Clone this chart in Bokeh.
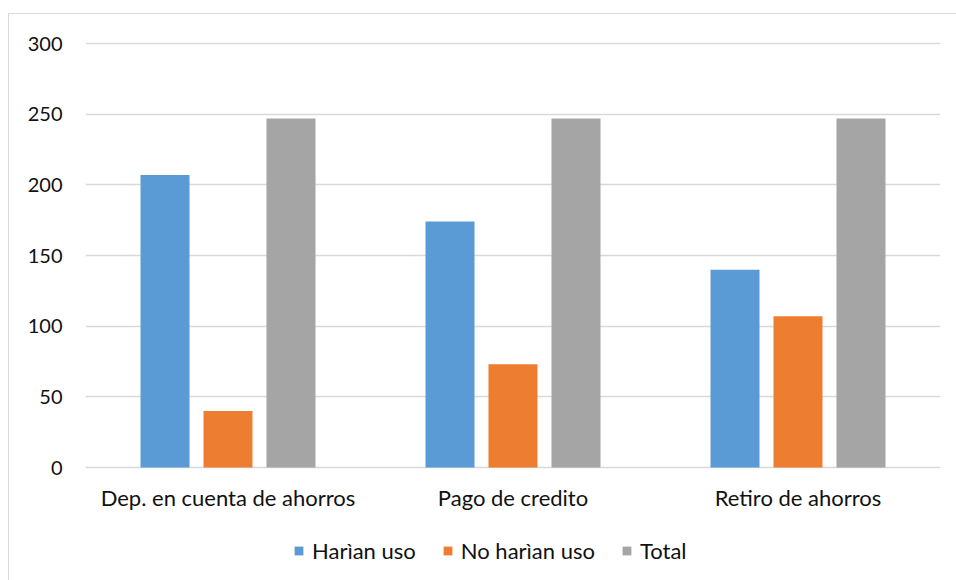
from bokeh.plotting import figure
from bokeh.models import Range1d, FixedTicker, Legend, LegendItem
from bokeh.core.properties import value
from bokeh.embed import file_html
from bokeh.resources import INLINE

# Survey answers per transaction type
categories = ["Dep. en cuenta de ahorros", "Pago de credito", "Retiro de ahorros"]
haran_uso = [207, 174, 140]
no_haran_uso = [40, 73, 107]
total = [247, 247, 247]
y_ticks = [0, 50, 100, 150, 200, 250, 300]

series = [
    ("Harìan uso", haran_uso, "#5B9BD5"),
    ("No harìan uso", no_haran_uso, "#ED7D31"),
    ("Total", total, "#A5A5A5"),
]

FONT = "Lato"
TEXT_COLOR = "#111111"
GRID = "#d9d9d9"

# The frame runs down to the bottom of the chart area so that the category
# labels and the legend can sit beneath the zero line.
p = figure(width=947, height=566, output_backend="svg", toolbar_location=None,
           x_range=Range1d(0, len(categories)), y_range=Range1d(-79.95, 300.71),
           x_axis_location=None,
           min_border_left=76, min_border_right=16, min_border_top=28,
           min_border_bottom=0, margin=(14, 0, 0, 9),
           styles={"outline": "1.5px solid #d9d9d9"})

p.outline_line_color = None
p.background_fill_color = "white"
p.border_fill_color = "white"

centers = [i + 0.5 for i in range(len(categories))]
bar_w = 0.172
step = 0.221

items = []
for k, (name, vals, color) in enumerate(series):
    xs = [c + (k - 1) * step for c in centers]
    r = p.vbar(x=xs, top=vals, bottom=0, width=bar_w, fill_color=color,
               line_color=None)
    items.append(LegendItem(label=name, renderers=[r]))

# y axis
p.yaxis.ticker = FixedTicker(ticks=y_ticks)
p.yaxis.axis_line_color = None
p.yaxis.major_tick_line_color = None
p.yaxis.minor_tick_line_color = None
p.yaxis.major_label_standoff = 17
p.yaxis.major_label_text_font = FONT
p.yaxis.major_label_text_font_size = "20px"
p.yaxis.major_label_text_color = TEXT_COLOR

p.xgrid.grid_line_color = None
p.ygrid.ticker = FixedTicker(ticks=y_ticks)
p.ygrid.grid_line_color = GRID
p.ygrid.grid_line_width = 1.3

# category labels under each group
p.text(x=centers, y=[-21.0] * len(centers), text=categories,
       text_font=value(FONT), text_font_size="22px", text_color=TEXT_COLOR,
       text_align="center", text_baseline="middle")

# legend along the bottom, positioned from the frame's lower-left corner
legend = Legend(items=items, orientation="horizontal", location=(208, 16),
                label_text_font=FONT, label_text_font_size="22px",
                label_text_color=TEXT_COLOR, glyph_width=11, glyph_height=11,
                label_standoff=8, spacing=26, padding=4, margin=0,
                border_line_color=None, background_fill_alpha=0)
p.add_layout(legend)

open("out.html", "w").write(file_html(p, INLINE))
